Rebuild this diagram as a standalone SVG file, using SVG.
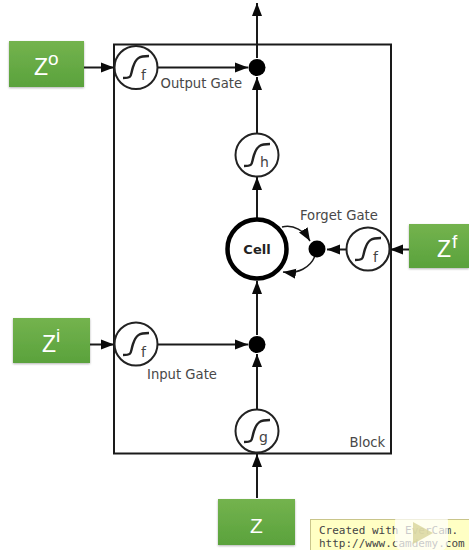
<svg xmlns="http://www.w3.org/2000/svg" width="469" height="550" viewBox="0 0 469 550">
<defs>
<linearGradient id="gr" x1="0" y1="0" x2="0" y2="1"><stop offset="0" stop-color="#74b34e"/><stop offset="1" stop-color="#5aa23c"/></linearGradient>
<filter id="sh" x="-10%" y="-10%" width="120%" height="125%"><feDropShadow dx="0" dy="1" stdDeviation="1.2" flood-color="#000" flood-opacity=".3"/></filter>
<marker id="ah" markerUnits="userSpaceOnUse" markerWidth="14" markerHeight="12" refX="13" refY="6" orient="auto"><path d="M0 1L13 6L0 11Z" fill="#0a0a0a"/></marker>
<symbol id="sig" overflow="visible"><path d="M-13 11C-3 11 -6 9 -3 0C0 -9 3 -11 13 -11" fill="none" stroke="#222" stroke-width="2.400"/></symbol>
</defs>
<style>
text{font-family:"DejaVu Sans","Liberation Sans",sans-serif}
.c{fill:#fff;stroke:#222;stroke-width:2}
.d{fill:#000}
.l{font-size:13.200px;fill:#484848}
.s{font-size:14px;fill:#444}
.g{fill:url(#gr);filter:url(#sh)}
.z{fill:#fff;font-size:23px;font-family:"Liberation Sans",sans-serif}
.u{fill:#fff;font-size:19px;font-family:"Liberation Sans",sans-serif}
.a{fill:none;stroke:#1a1a1a;stroke-width:2;marker-end:url(#ah)}
.t{stroke-width:1.500}
.m{font-size:11px;fill:#444;font-family:"DejaVu Sans Mono","Liberation Mono",monospace}
</style>
<rect width="469" height="550" fill="#fff"/>
<rect id="block" x="114" y="44.500" width="277" height="409" fill="#fff" stroke="#1a1a1a" stroke-width="2"/>
<g id="connectors">
<path class="a" d="M84 67.500H114"/>
<path class="a" d="M158 67.500H248"/>
<path class="a" d="M257 58V3"/>
<path class="a" d="M257 133V77"/>
<path class="a" d="M257 220V177"/>
<path class="a" d="M257 335V281"/>
<path class="a" d="M257 409V354"/>
<path class="a" d="M90 344.500H114"/>
<path class="a" d="M158 344.500H248"/>
<path class="a" d="M257 498V454"/>
<path class="a" d="M409 249.500H390"/>
<path class="a" d="M347 249.500H327"/>
<path class="a t" d="M282 227C294 224 304 231 310 241"/>
<path class="a t" d="M315 256C310 268 298 274 283 272"/>
</g>
<g id="z-o"><rect class="g" x="9" y="41" width="75" height="46"/><text class="z" x="34" y="75">Z</text><text class="u" x="48" y="65">o</text></g>
<g id="z-i"><rect class="g" x="13" y="318" width="77" height="45"/><text class="z" x="42" y="352">Z</text><text class="u" x="56" y="342">i</text></g>
<g id="z-f"><rect class="g" x="409" y="224" width="60" height="44"/><text class="z" x="437" y="257">Z</text><text class="u" x="452" y="248">f</text></g>
<g id="z"><rect class="g" x="218" y="499" width="77" height="46"/><text class="z" x="250" y="533" style="font-size:21px">Z</text></g>
<g id="gate-output"><circle class="c" cx="136" cy="67.500" r="21.500"/><use href="#sig" x="136" y="67"/><text class="s" x="141" y="80">f</text></g>
<g id="gate-output-dot"><circle class="d" cx="257" cy="67.500" r="8.500"/></g>
<g id="h"><circle class="c" cx="257" cy="155" r="21.500"/><use href="#sig" x="257" y="155"/><text class="s" x="260" y="167">h</text></g>
<g id="cell"><circle cx="257" cy="249" r="29.500" fill="#fff" stroke="#000" stroke-width="4.500"/><text x="257" y="254" text-anchor="middle" font-size="13" font-weight="bold" fill="#222">Cell</text></g>
<g id="forget-dot"><circle class="d" cx="317" cy="249" r="8.500"/></g>
<g id="gate-forget"><circle class="c" cx="368" cy="249" r="21.500"/><use href="#sig" x="368" y="249"/><text class="s" x="373" y="262">f</text></g>
<g id="gate-input"><circle class="c" cx="136" cy="344" r="21.500"/><use href="#sig" x="136" y="344"/><text class="s" x="141" y="357">f</text></g>
<g id="input-dot"><circle class="d" cx="257" cy="344.500" r="8.500"/></g>
<g id="g"><circle class="c" cx="257" cy="431" r="21.500"/><use href="#sig" x="257" y="431"/><text class="s" x="259" y="442">g</text></g>
<text class="l" x="160.500" y="87.500">Output Gate</text>
<text class="l" x="300" y="220">Forget Gate</text>
<text class="l" x="147" y="378.500">Input Gate</text>
<text class="l" x="349.500" y="447">Block</text>
<g id="watermark">
<rect x="310.500" y="519.500" width="159" height="31" fill="#ffffc4" stroke="#c9c58a"/>
<text class="m" x="319" y="534">Created with EverCam.</text>
<text class="m" x="319" y="547">http://www.camdemy.com</text>
<rect x="395" y="512" width="53" height="39" rx="9" fill="#fff" fill-opacity=".72"/>
<path d="M409 504L418 512M434 504L425 512" stroke="#fff" stroke-width="4" stroke-opacity=".8"/>
<path d="M413 522L433 533L413 544Z" fill="#d8d49a" fill-opacity=".8"/>
</g>
</svg>
